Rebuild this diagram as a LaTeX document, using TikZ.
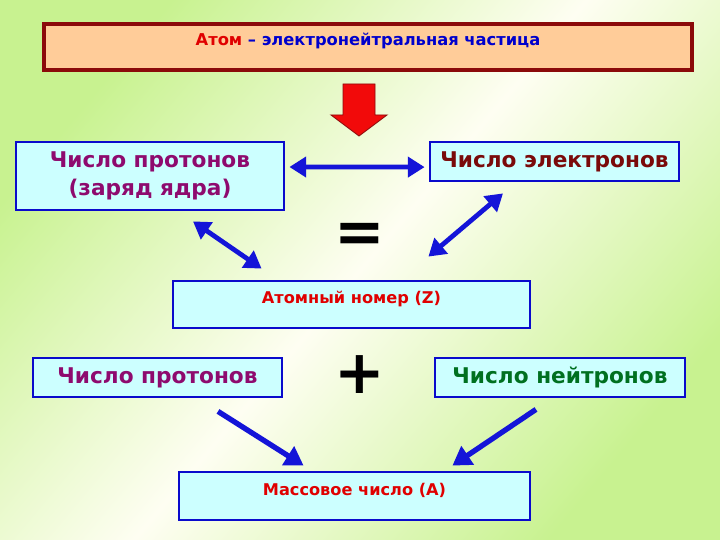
\documentclass[tikz,border=0pt]{standalone}
\usepackage{fontspec}
\setmainfont{DejaVu Sans}
\usepackage{tikz}
\usetikzlibrary{arrows.meta,calc}
\definecolor{bgin}{HTML}{FEFEF2}
\definecolor{bgout}{HTML}{C8F290}
\definecolor{peach}{HTML}{FFCC99}
\definecolor{maroon}{HTML}{8B0A0A}
\definecolor{boxcyan}{HTML}{CCFFFF}
\definecolor{boxblue}{HTML}{0A0ACC}
\definecolor{arrowblue}{HTML}{1414D8}
\definecolor{textred}{HTML}{E00000}
\definecolor{textblue}{HTML}{0000CC}
\definecolor{textpurple}{HTML}{8E0A6E}
\definecolor{textbrown}{HTML}{7A0A0A}
\definecolor{textgreen}{HTML}{007020}
\definecolor{redfill}{HTML}{F20A0A}
\tikzset{
  >={Triangle[length=4.2mm,width=5mm]},
  line/.style={draw=arrowblue, -{Triangle[length=4.6mm,width=5.4mm]}, line width=3.8pt},
  dblline/.style={draw=arrowblue, {Triangle[length=4.2mm,width=5mm]}-{Triangle[length=4.2mm,width=5mm]}, line width=3.4pt},
  box/.style={
    draw=boxblue,
    fill=boxcyan,
    line width=2pt,
    align=center,
    inner sep=0pt,
    font=\fontsize{15.4}{19.9}\selectfont\bfseries
  },
  smallbox/.style={box, font=\fontsize{11.5}{12}\selectfont\bfseries},
  sign/.style={font=\fontsize{43}{43}\selectfont\bfseries, inner sep=0pt}
}
\begin{document}
\begin{tikzpicture}[x=1cm,y=1cm]
  \path[use as bounding box] (0,0) rectangle (18,13.5);
  \shade[top color=bgout, bottom color=bgout, middle color=bgin, shading angle=50] (0,0) rectangle (18,13.5);

  \node[draw=maroon, fill=peach, line width=2.6pt, inner sep=0pt,
    minimum width=16.2cm, text height=0.55cm, text depth=0.6cm,
    font=\fontsize{11.6}{12}\selectfont\bfseries] (neutral) at (9.2,12.325)
    {\textcolor{textred}{Атом} \textcolor{textblue}{– электронейтральная частица}};

  % red arrow down
  \draw[draw=maroon, fill=redfill, line width=0.6pt]
    (8.575,11.4) -- (9.375,11.4) -- (9.375,10.625) -- (9.675,10.625)
    -- (8.975,10.1) -- (8.275,10.625) -- (8.575,10.625) -- cycle;

  \node[box, text=textpurple, minimum width=6.7cm, minimum height=1.7cm] (charge) at (3.75,9.1)
    {Число протонов\\(заряд ядра)};
  \node[box, text=textbrown, minimum width=6.225cm, minimum height=0.975cm] (electrons) at (13.8625,9.4625)
    {Число электронов};
  \node[sign] (equals) at (9.0,7.54) {=};

  \node[smallbox, text=textred, minimum width=8.925cm, text height=0.575cm, text depth=0.6cm] (atomnum) at (8.7875,5.8875)
    {Атомный номер (Z)};

  \node[box, text=textpurple, minimum width=6.225cm, minimum height=0.975cm] (protons) at (3.9375,4.0625)
    {Число протонов};
  \node[sign] (plus) at (9.0,4.13) {+};
  \node[box, text=textgreen, minimum width=6.25cm, minimum height=0.975cm] (neutrons) at (14.0,4.0625)
    {Число нейтронов};

  \node[smallbox, text=textred, minimum width=8.775cm, text height=0.6cm, text depth=0.6cm] (massnum) at (8.8625,1.1)
    {Массовое число (А)};

  \draw[dblline] ([shift={(0.1,0.225)}]charge.east) -- ([shift={(-0.1,-0.14)}]electrons.west);
  \draw[dblline] ([shift={(1.075,-0.25)}]charge.south) -- ([shift={(2.25,0.275)}]atomnum.north west);
  \draw[dblline] ([shift={(-1.2875,-0.275)}]electrons.south) -- ([shift={(-2.575,0.575)}]atomnum.north east);

  \draw[line] ([shift={(1.5125,-0.325)}]protons.south) -- ([shift={(3.15,0.125)}]massnum.north west);
  \draw[line] ([shift={(-0.6,-0.275)}]neutrons.south) -- ([shift={(-1.975,0.125)}]massnum.north east);
\end{tikzpicture}
\end{document}
